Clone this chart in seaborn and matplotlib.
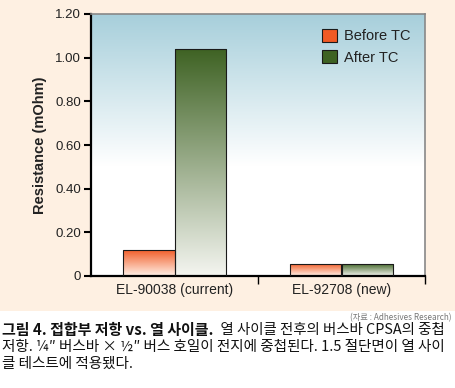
import numpy as np
import pandas as pd
import matplotlib.pyplot as plt
import seaborn as sns
from matplotlib.colors import LinearSegmentedColormap
from matplotlib.patches import Rectangle

# ---- data ----
products = ["EL-90038 (current)", "EL-92708 (new)"]
series = ["Before TC", "After TC"]
before_tc = [0.12, 0.055]
after_tc = [1.04, 0.055]
y_ticks = [0, 0.2, 0.4, 0.6, 0.8, 1.0, 1.2]
y_labels = ["0", "0.20", "0.40", "0.60", "0.80", "1.00", "1.20"]

df = pd.DataFrame({
    "product": products * 2,
    "series": [series[0]] * 2 + [series[1]] * 2,
    "value": before_tc + after_tc,
})

orange = "#F15A24"
green = "#3E6223"
peach = "#FEF0E2"

sns.set_theme(style="white")
plt.rcParams["font.family"] = ["Liberation Sans", "Noto Sans CJK KR", "DejaVu Sans"]

W, H = 456, 388
fig = plt.figure(figsize=(W / 100, H / 100), dpi=100, facecolor="white")
fig.patches.append(Rectangle((0, 1 - 311 / H), 1, 311 / H, transform=fig.transFigure,
                             facecolor=peach, edgecolor="none", zorder=-10))
ax = fig.add_axes([91 / W, 1 - 276 / H, 334 / W, 262 / H])

sns.barplot(data=df, x="product", y="value", hue="series", order=products,
            hue_order=series, palette=[orange, green], saturation=1, width=0.62,
            edgecolor="#1a1a1a", linewidth=0.8, legend=False, ax=ax)

ax.set_xlim(-0.5, 1.5)
ax.set_ylim(0, 1.2)

# background gradient (blue top -> white)
bg = LinearSegmentedColormap.from_list("bg", [(0, "white"), (0.42, "white"), (1, "#A7CFDB")])
ax.imshow(np.linspace(0, 1, 256).reshape(-1, 1), cmap=bg, origin="lower",
          extent=[0, 1, 0, 1], transform=ax.transAxes, aspect="auto", zorder=0)

# gradient fill in each bar
lights = {orange: "#FFF1E8", green: "#F4F5F0"}
for cont, col in zip(ax.containers, [orange, green]):
    cm = LinearSegmentedColormap.from_list("g", [lights[col], col])
    for bar in cont:
        x0, y0 = bar.get_x(), bar.get_y()
        w, h = bar.get_width(), bar.get_height()
        img = ax.imshow(np.linspace(0, 1, 256).reshape(-1, 1), cmap=cm, origin="lower",
                        extent=[x0, x0 + w, y0, y0 + h], aspect="auto", zorder=2)
        img.set_clip_path(bar)
        bar.set_facecolor("none")
        bar.set_zorder(3)

ax.set_xlim(-0.5, 1.5)
ax.set_ylim(0, 1.2)

ax.set_yticks(y_ticks, y_labels)
ax.set_xticks([0.5, 1.5], minor=True)
ax.tick_params(axis="y", which="major", direction="out", length=5, width=1.5,
               color="black", labelsize=9.5, labelcolor="#222222", pad=2, left=True)
ax.tick_params(axis="x", which="major", length=0, labelsize=10, labelcolor="#222222", pad=5)
ax.tick_params(axis="x", which="minor", direction="out", length=6, width=1, color="black", bottom=True)

for s in ["left", "bottom"]:
    ax.spines[s].set_color("black")
    ax.spines[s].set_linewidth(1.6)
for s in ["top", "right"]:
    ax.spines[s].set_color("#888888")
    ax.spines[s].set_linewidth(1.2)

ax.set_xlabel("")
ax.set_ylabel("Resistance (mOhm)", fontsize=10.5, fontweight="bold", color="#222222", labelpad=6)

handles = [Rectangle((0, 0), 1, 1, facecolor=c, edgecolor="#1a1a1a", linewidth=0.8)
           for c in [orange, green]]
ax.legend(handles, series, loc="upper right", frameon=False, fontsize=10.5,
          handlelength=1.0, handleheight=1.0, handletextpad=0.5, labelspacing=0.5,
          borderaxespad=0.6, labelcolor="#222222")

# ---- source and caption ----
kr = ["Noto Sans CJK KR", "DejaVu Sans"]
fig.text(452 / W, 1 - 318 / H, "(자료 : Adhesives Research)", ha="right", va="center",
         fontsize=5.9, color="#777777", family=kr)
t1 = fig.text(2 / W, 1 - 330 / H, "그림 4. 접합부 저항 vs. 열 사이클.", ha="left", va="center",
              fontsize=10.8, fontweight="bold", color="#111111", family=kr)
ax.annotate("  열 사이클 전후의 버스바 CPSA의 중첩", xy=(1, 0.5), xycoords=t1,
            ha="left", va="center", fontsize=10.4, color="#111111", family=kr,
            annotation_clip=False)
fig.text(2 / W, 1 - 347 / H, "저항. ¼″ 버스바 × ½″ 버스 호일이 전지에 중첩된다. 1.5 절단면이 열 사이",
         ha="left", va="center", fontsize=10.5, color="#111111", family=kr)
fig.text(2 / W, 1 - 364 / H, "클 테스트에 적용됐다.", ha="left", va="center",
         fontsize=10.5, color="#111111", family=kr)

fig.savefig("out.png", dpi=100, facecolor="white")
